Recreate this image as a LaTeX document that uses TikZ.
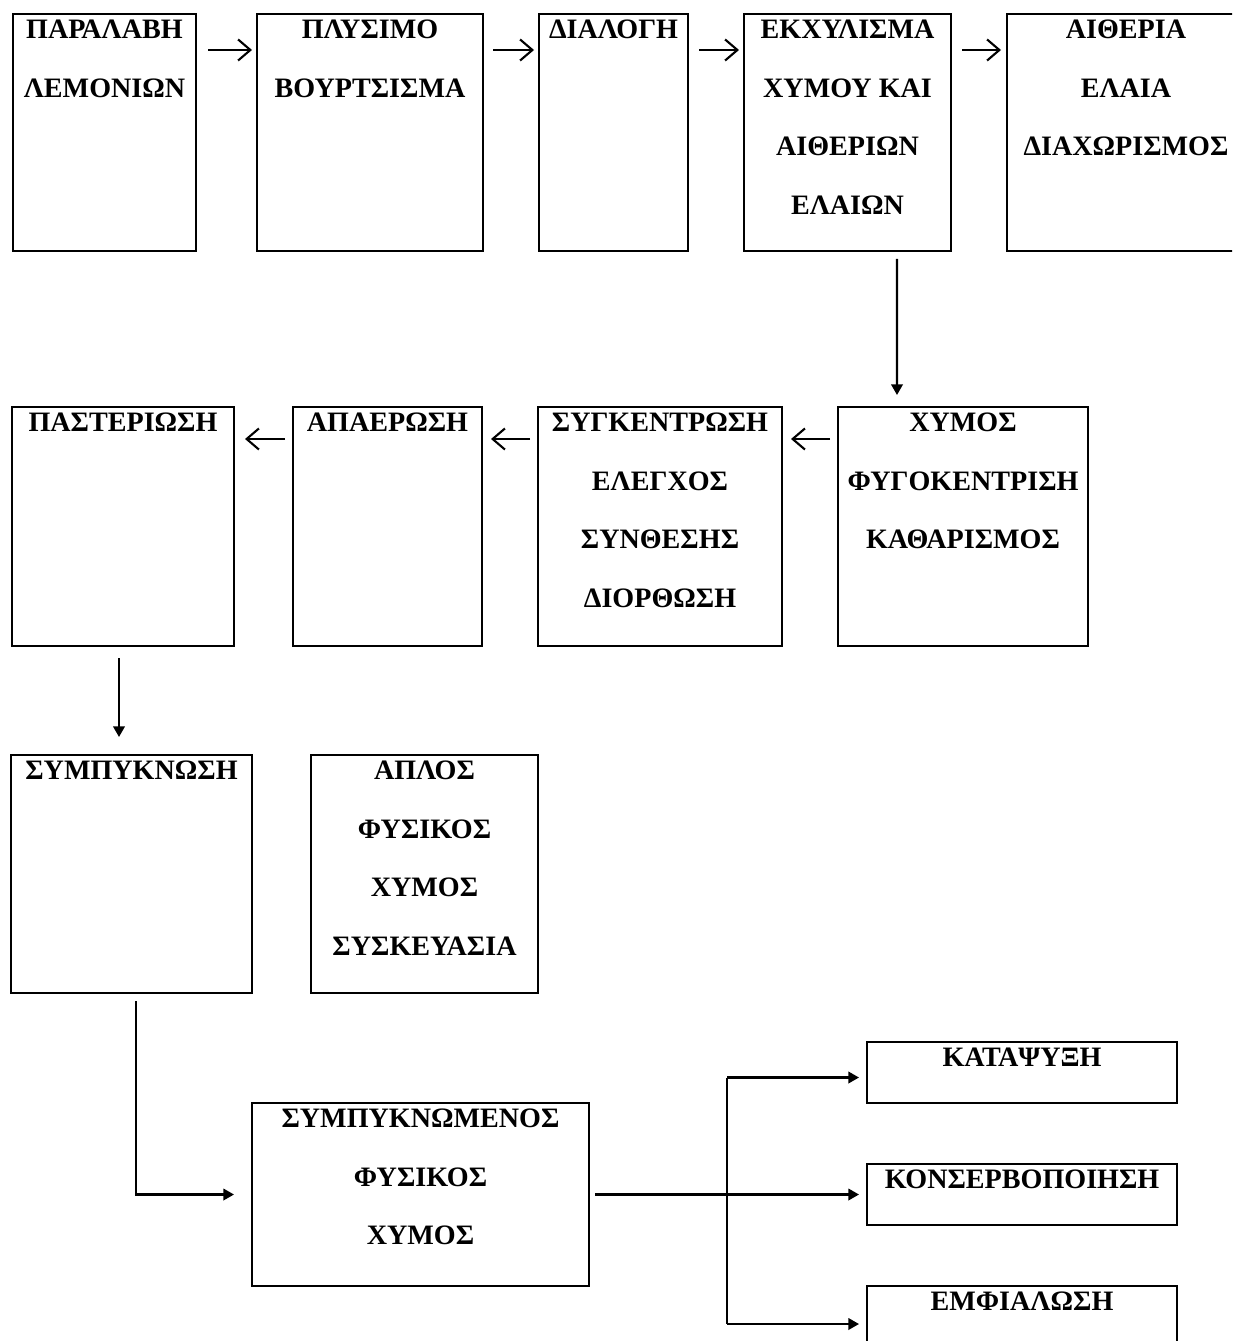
\documentclass[tikz,border=0pt]{standalone}
\usepackage{fontspec}
\setmainfont{Liberation Serif}
\usetikzlibrary{arrows.meta,calc}
\newcommand\flowbox[6]{%
  \node[boxst, minimum width={(#4-#2)*0.02cm}, minimum height={(#5-#3)*0.02cm}]
    (#1) at ({(#2+#4)/2},{(#3+#5)/2}) {};
  \node[txtst, anchor=north] (#1t) at ($(#1.north)+(0,6)$) {#6};
}
\begin{document}
\begin{tikzpicture}[x=0.02cm,y=-0.02cm,
  boxst/.style={draw, line width=1.1pt, inner sep=0pt, outer sep=0pt},
  txtst/.style={inner sep=0pt, outer sep=0pt, align=center, font=\fontsize{16pt}{33.4pt}\selectfont\bfseries},
  conn/.style={line width=1.2pt},
  topar/.style={conn, -{Straight Barb[length=7pt,width=12pt,line width=1.2pt]}},
  fillar/.style={conn, -{Triangle[length=6pt,width=6.5pt]}}]
\useasboundingbox (0,0) rectangle (1232,1341);
\clip (0,0) rectangle (1232,1341);
% row 1
\flowbox{b1}{13}{14}{196}{251}{ΠΑΡΑΛΑΒΗ\\ΛΕΜΟΝΙΩΝ}
\flowbox{b2}{257}{14}{483}{251}{ΠΛΥΣΙΜΟ\\ΒΟΥΡΤΣΙΣΜΑ}
\flowbox{b3}{539}{14}{688}{251}{ΔΙΑΛΟΓΗ}
\flowbox{b4}{744}{14}{951}{251}{ΕΚΧΥΛΙΣΜΑ\\ΧΥΜΟΥ ΚΑΙ\\ΑΙΘΕΡΙΩΝ\\ΕΛΑΙΩΝ}
\flowbox{b5}{1007}{14}{1245}{251}{ΑΙΘΕΡΙΑ\\ΕΛΑΙΑ\\ΔΙΑΧΩΡΙΣΜΟΣ}
% row 2
\flowbox{c1}{12}{407}{234}{646}{ΠΑΣΤΕΡΙΩΣΗ}
\flowbox{c2}{293}{407}{482}{646}{ΑΠΑΕΡΩΣΗ}
\flowbox{c3}{538}{407}{782}{646}{ΣΥΓΚΕΝΤΡΩΣΗ\\ΕΛΕΓΧΟΣ\\ΣΥΝΘΕΣΗΣ\\ΔΙΟΡΘΩΣΗ}
\flowbox{c4}{838}{407}{1088}{646}{ΧΥΜΟΣ\\ΦΥΓΟΚΕΝΤΡΙΣΗ\\ΚΑΘΑΡΙΣΜΟΣ}
% row 3
\flowbox{d1}{11}{755}{252}{993}{ΣΥΜΠΥΚΝΩΣΗ}
\flowbox{d2}{311}{755}{538}{993}{ΑΠΛΟΣ\\ΦΥΣΙΚΟΣ\\ΧΥΜΟΣ\\ΣΥΣΚΕΥΑΣΙΑ}
% bottom
\flowbox{e1}{252}{1103}{589}{1286}{ΣΥΜΠΥΚΝΩΜΕΝΟΣ\\ΦΥΣΙΚΟΣ\\ΧΥΜΟΣ}
\flowbox{f1}{867}{1042}{1177}{1103}{ΚΑΤΑΨΥΞΗ}
\flowbox{f2}{867}{1164}{1177}{1225}{ΚΟΝΣΕΡΒΟΠΟΙΗΣΗ}
\flowbox{f3}{867}{1286}{1177}{1362}{ΕΜΦΙΑΛΩΣΗ}
% row 1 arrows
\draw[topar] ($(b1.north east)+(12,36)$) -- ($(b2.north west)+(-5,36)$);
\draw[topar] ($(b2.north east)+(10,36)$) -- ($(b3.north west)+(-5,36)$);
\draw[topar] ($(b3.north east)+(11,36)$) -- ($(b4.north west)+(-5,36)$);
\draw[topar] ($(b4.north east)+(11,36)$) -- ($(b5.north west)+(-6,36)$);
% down to row 2
\draw[fillar] ($(b4.south east)+(-54,8)$) -- ($(c4.north west)+(59,-12)$);
% row 2 arrows (leftward)
\draw[topar] ($(c4.north west)+(-8,32)$) -- ($(c3.north east)+(9,32)$);
\draw[topar] ($(c3.north west)+(-8,32)$) -- ($(c2.north east)+(9,32)$);
\draw[topar] ($(c2.north west)+(-8,32)$) -- ($(c1.north east)+(11,32)$);
% down to row 3
\draw[fillar] ($(c1.south west)+(107,12)$) -- ($(d1.north west)+(108,-18)$);
% to concentrated juice
\draw[fillar] ($(d1.south west)+(125,8)$) |- ($(e1.west)+(-18,0)$);
% distribution
\draw[fillar] ($(e1.east)+(6,0)$) -- ($(f2.west)+(-8,0)$);
\coordinate (jt) at ($(f1.west)+(-140,5)$);
\coordinate (jb) at ($(f3.west)+(-140,0)$);
\draw[conn] (jt) -- (jb);
\draw[fillar] (jt) -- ($(f1.west)+(-8,5)$);
\draw[fillar] (jb) -- ($(f3.west)+(-8,0)$);
\end{tikzpicture}
\end{document}
